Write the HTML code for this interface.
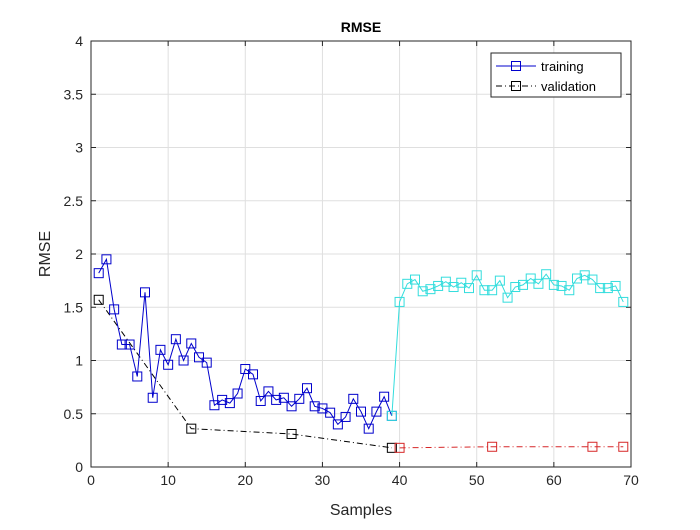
<!DOCTYPE html>
<html><head><meta charset="utf-8"><style>body{margin:0;background:#fff}svg{font-family:"Liberation Sans",sans-serif}</style></head>
<body>
<svg id="c" width="700" height="525"></svg>
<script>
const trainX=[1,2,3,4,5,6,7,8,9,10,11,12,13,14,15,16,17,18,19,20,21,22,23,24,25,26,27,28,29,30,31,32,33,34,35,36,37,38,39];
const trainY=[1.82,1.95,1.48,1.15,1.15,0.85,1.64,0.65,1.10,0.96,1.20,1.00,1.16,1.03,0.98,0.58,0.63,0.60,0.69,0.92,0.87,0.62,0.71,0.63,0.65,0.57,0.64,0.74,0.57,0.55,0.51,0.40,0.47,0.64,0.52,0.36,0.52,0.66,0.48];
const testX=[39,40,41,42,43,44,45,46,47,48,49,50,51,52,53,54,55,56,57,58,59,60,61,62,63,64,65,66,67,68,69];
const testY=[0.48,1.55,1.72,1.76,1.65,1.67,1.70,1.74,1.69,1.73,1.68,1.80,1.66,1.66,1.75,1.59,1.69,1.71,1.77,1.72,1.81,1.71,1.70,1.66,1.77,1.80,1.76,1.68,1.68,1.70,1.55];
const valX=[1,13,26,39];
const valY=[1.57,0.36,0.31,0.18];
const val2X=[40,52,65,69];
const val2Y=[0.18,0.19,0.19,0.19];
const xTicks=[0,10,20,30,40,50,60,70];
const yTicks=[0,0.5,1,1.5,2,2.5,3,3.5,4];
const L=91,R=631,T=41,B=467;
const sx=v=>L+(v-0)/70*(R-L), sy=v=>B-(v/4)*(B-T);
const svg=document.getElementById('c');const NS='http://www.w3.org/2000/svg';
function el(t,a,p){const e=document.createElementNS(NS,t);for(const k in a)e.setAttribute(k,a[k]);(p||svg).appendChild(e);return e;}
el('rect',{x:L,y:T,width:R-L,height:B-T,fill:'#fff'});
xTicks.forEach(v=>{const g=el('line',{x1:sx(v),x2:sx(v),y1:T,y2:B,stroke:'#dfdfdf'});


const t=el('text',{x:sx(v),y:B+18,'text-anchor':'middle','font-size':14,fill:'#262626'});t.textContent=v;


el('line',{x1:sx(v),x2:sx(v),y1:B,y2:B-5,stroke:'#262626'});el('line',{x1:sx(v),x2:sx(v),y1:T,y2:T+5,stroke:'#262626'});});
yTicks.forEach(v=>{const g=el('line',{x1:L,x2:R,y1:sy(v),y2:sy(v),stroke:'#dfdfdf'});


const t=el('text',{x:L-8,y:sy(v)+5,'text-anchor':'end','font-size':14,fill:'#262626'});t.textContent=v;


el('line',{x1:L,x2:L+5,y1:sy(v),y2:sy(v),stroke:'#262626'});el('line',{x1:R,x2:R-5,y1:sy(v),y2:sy(v),stroke:'#262626'});});
el('rect',{x:L,y:T,width:R-L,height:B-T,fill:'none',stroke:'#262626'});
function series(xs,ys,color,dash,name){
 const pts=xs.map((x,i)=>sx(x)+','+sy(ys[i])).join(' ');
 const pl=el('polyline',{points:pts,fill:'none',stroke:color,'stroke-width':1,'stroke-dasharray':dash||''});
 
 
 xs.forEach((x,i)=>{const m=el('rect',{x:sx(x)-4.5,y:sy(ys[i])-4.5,width:9,height:9,fill:'none',stroke:color});
 
 });
}
series(valX,valY,'#000','6,3,1,3','validation');
series(val2X,val2Y,'#d62728','6,3,1,3','test-validation');
series(trainX,trainY,'#0000cc','','training');
series(testX,testY,'#33dddd','','test');
let t=el('text',{x:361,y:32,'text-anchor':'middle','font-size':14,'font-weight':'bold',fill:'#000'});t.textContent='RMSE';

t=el('text',{x:361,y:515,'text-anchor':'middle','font-size':16,fill:'#262626'});t.textContent='Samples';

t=el('text',{x:0,y:0,'text-anchor':'middle','font-size':16,fill:'#262626',transform:'translate(50,254) rotate(-90)'});t.textContent='RMSE';

const lg=el('g',{});


el('rect',{x:491,y:53,width:130,height:44,fill:'#fff',stroke:'#262626'},lg);
el('line',{x1:496,x2:536,y1:66,y2:66,stroke:'#0000cc'},lg);el('rect',{x:511.5,y:61.5,width:9,height:9,fill:'none',stroke:'#0000cc'},lg);
el('line',{x1:496,x2:536,y1:86,y2:86,stroke:'#000','stroke-dasharray':'6,3,1,3'},lg);el('rect',{x:511.5,y:81.5,width:9,height:9,fill:'none',stroke:'#000'},lg);
t=el('text',{x:541,y:71,'font-size':13,fill:'#000'},lg);t.textContent='training';

t=el('text',{x:541,y:91,'font-size':13,fill:'#000'},lg);t.textContent='validation';

</script>
</body></html>
